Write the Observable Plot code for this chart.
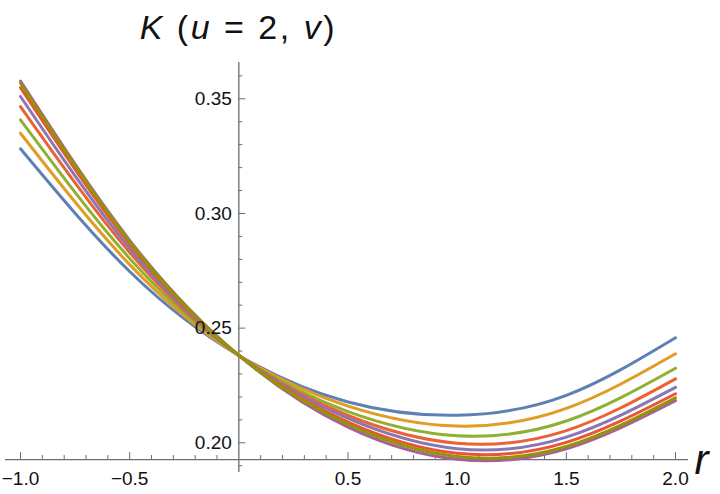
<!DOCTYPE html>
<html><head><meta charset="utf-8">
<script src="https://cdn.jsdelivr.net/npm/d3@7"></script>
<script src="https://cdn.jsdelivr.net/npm/@observablehq/plot@0.6"></script>
<style>body{margin:0;background:#fff;} svg{display:block}</style>
</head><body><div id="chart"></div>
<script>
// r sample positions
const rValues = [-1, -0.5, 0, 0.5, 1, 1.5, 2];
// K values per curve
const curve1 = [0.3282, 0.2747, 0.2381, 0.2178, 0.2120, 0.2207, 0.2458];
const curve2 = [0.3350, 0.2777, 0.2381, 0.2160, 0.2073, 0.2150, 0.2388];
const curve3 = [0.3408, 0.2804, 0.2381, 0.2136, 0.2031, 0.2095, 0.2325];
const curve4 = [0.3466, 0.2830, 0.2381, 0.2119, 0.1998, 0.2053, 0.2279];
const curve5 = [0.3510, 0.2848, 0.2381, 0.2106, 0.1974, 0.2025, 0.2242];
const curve6 = [0.3548, 0.2867, 0.2381, 0.2090, 0.1954, 0.2002, 0.2214];
const curve7 = [0.3577, 0.2883, 0.2381, 0.2068, 0.1928, 0.1974, 0.2184];
const curve8 = [0.3568, 0.2877, 0.2381, 0.2080, 0.1940, 0.1984, 0.2196];
const seriesNames = ["c1","c2","c3","c4","c5","c6","c7","c8"];
const seriesValues = [curve1, curve2, curve3, curve4, curve5, curve6, curve7, curve8];
const seriesColors = ["#5E81B5","#E19C24","#8FB032","#EB6235","#8778B3","#E95536","#A5609D","#929600"];

// ticks
const xMajor = [-1, -0.5, 0.5, 1, 1.5, 2];
const xMajorLabels = ["\u22121.0","\u22120.5","0.5","1.0","1.5","2.0"];
const xMinor = [-0.9,-0.8,-0.7,-0.6,-0.4,-0.3,-0.2,-0.1,0.1,0.2,0.3,0.4,0.6,0.7,0.8,0.9,1.1,1.2,1.3,1.4,1.6,1.7,1.8,1.9];
const yMajor = [0.20, 0.25, 0.30, 0.35];
const yMajorLabels = ["0.20","0.25","0.30","0.35"];
const yMinor = [0.19,0.21,0.22,0.23,0.24,0.26,0.27,0.28,0.29,0.31,0.32,0.33,0.34,0.36];
const xAxisAt = 0.1927;
const yAxisAt = 0;

const W = 720, H = 494, mL = 5, mR = 32, mT = 62, mB = 22;
const xDomain = [-1.0687, 2.0595];
const yDomain = [0.18705, 0.36583];
const pxX = (W - mL - mR) / (xDomain[1] - xDomain[0]);
const pxY = (H - mT - mB) / (yDomain[1] - yDomain[0]);

const data = [];
seriesValues.forEach((vals, i) => vals.forEach((k, j) => data.push({series: seriesNames[i], r: rValues[j], K: k})));

const axisColor = "#6e6e6e";
const font = "Liberation Sans, Arial, Helvetica, sans-serif";

const plot = Plot.plot({
  width: W, height: H,
  marginLeft: mL, marginRight: mR, marginTop: mT, marginBottom: mB,
  style: {fontFamily: font, background: "#fff"},
  x: {domain: xDomain, axis: null},
  y: {domain: yDomain, axis: null},
  color: {domain: seriesNames, range: seriesColors},
  marks: [
    Plot.ruleY([xAxisAt], {x1: xDomain[0], x2: xDomain[1], stroke: axisColor, strokeWidth: 1.3}),
    Plot.ruleX([yAxisAt], {y1: yDomain[0], y2: yDomain[1], stroke: axisColor, strokeWidth: 1.3}),
    Plot.ruleX(xMajor, {x: d => d, y1: xAxisAt, y2: xAxisAt + 7 / pxY, stroke: axisColor}),
    Plot.ruleX(xMinor, {x: d => d, y1: xAxisAt, y2: xAxisAt + 4 / pxY, stroke: axisColor}),
    Plot.ruleY(yMajor, {y: d => d, x1: yAxisAt, x2: yAxisAt + 7 / pxX, stroke: axisColor}),
    Plot.ruleY(yMinor, {y: d => d, x1: yAxisAt, x2: yAxisAt + 4 / pxX, stroke: axisColor}),
    Plot.line(data, {x: "r", y: "K", z: "series", stroke: "series", curve: "natural", strokeWidth: 3}),
    Plot.text(xMajor, {x: d => d, y: xAxisAt, text: (d, i) => xMajorLabels[i], dy: 19, fontSize: 19, fill: "#111"}),
    Plot.text(yMajor, {x: yAxisAt, y: d => d, text: (d, i) => yMajorLabels[i], textAnchor: "end", dx: -7, fontSize: 19, fill: "#111"}),
    Plot.text(["r"], {x: xDomain[1], y: xAxisAt, text: d => d, textAnchor: "start", dx: 6, dy: 1, fontSize: 42, fontStyle: "italic", fill: "#111"})
  ]
});
document.getElementById("chart").appendChild(plot);

// title above the y axis
const svg = d3.select(plot);
const t = svg.append("text")
  .attr("x", plot.scale("x").apply(yAxisAt))
  .attr("y", 39)
  .attr("text-anchor", "middle")
  .attr("font-family", font)
  .attr("font-size", 34)
  .attr("letter-spacing", 2.5)
  .attr("fill", "#111");
t.append("tspan").attr("font-style", "italic").text("K");
t.append("tspan").text(" (");
t.append("tspan").attr("font-style", "italic").text("u");
t.append("tspan").text(" = 2, ");
t.append("tspan").attr("font-style", "italic").text("v");
t.append("tspan").text(")");
</script>
</body></html>
